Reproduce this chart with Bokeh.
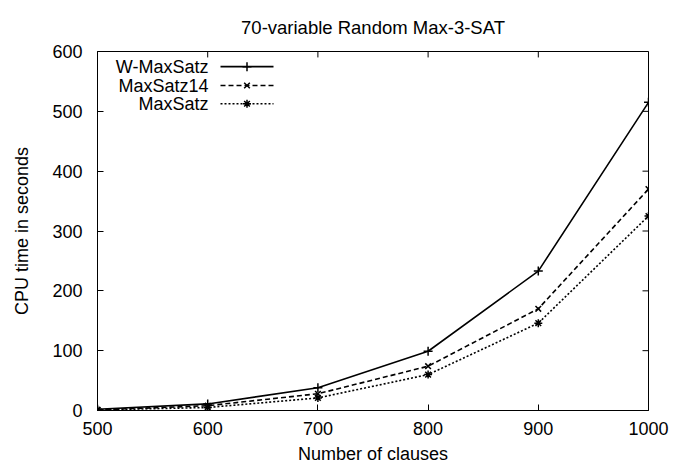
from bokeh.plotting import figure
from bokeh.models import Range1d, FixedTicker
from bokeh.core.properties import value
from bokeh.embed import file_html
from bokeh.resources import INLINE

# ---- data ----
clauses = [500, 600, 700, 800, 900, 1000]
w_maxsatz = [2, 11, 38, 99, 233, 515]
maxsatz14 = [1, 8, 28, 74, 170, 370]
maxsatz = [1, 5, 21, 60, 146, 325]
x_ticks = [500, 600, 700, 800, 900, 1000]
y_ticks = [0, 100, 200, 300, 400, 500, 600]
series_names = ["W-MaxSatz", "MaxSatz14", "MaxSatz"]
title_text = "70-variable Random Max-3-SAT"

FONT = "Liberation Sans"
FS = "18px"

p = figure(width=673, height=466, output_backend="svg", toolbar_location=None,
           x_range=Range1d(500, 1000), y_range=Range1d(0, 600),
           min_border_left=97, min_border_right=25, min_border_top=49, min_border_bottom=55,
           title=title_text)
p.background_fill_color = "white"
p.border_fill_color = "white"
p.outline_line_color = "black"
p.outline_line_width = 1
p.xgrid.visible = False
p.ygrid.visible = False

p.title.align = "center"
p.title.text_font = FONT
p.title.text_font_size = "18.5px"
p.title.text_font_style = "normal"
p.title.text_color = "black"
p.title.text_line_height = 0.6
p.title.standoff = 28

for ax in (p.xaxis[0], p.yaxis[0]):
    ax.major_tick_in = 6
    ax.major_tick_out = 0
    ax.minor_tick_in = 0
    ax.minor_tick_out = 0
    ax.axis_line_color = "black"
    ax.major_tick_line_color = "black"
    ax.major_label_text_font = FONT
    ax.major_label_text_font_size = FS
    ax.major_label_text_color = "black"
    ax.axis_label_text_font = FONT
    ax.axis_label_text_font_size = FS
    ax.axis_label_text_font_style = "normal"
    ax.axis_label_text_color = "black"

p.xaxis.ticker = FixedTicker(ticks=x_ticks)
p.yaxis.ticker = FixedTicker(ticks=y_ticks)
p.xaxis.axis_label = "Number of clauses"
p.yaxis.axis_label = "CPU time in seconds"
p.xaxis.major_label_standoff = 11
p.xaxis.axis_label_standoff = 6
p.yaxis.major_label_standoff = 15
p.yaxis.axis_label_standoff = 17

# pixel-like ranges over the frame (for mirror ticks and the key)
p.extra_x_ranges = {"px": Range1d(0, 551)}
p.extra_y_ranges = {"py": Range1d(0, 362)}

# mirror ticks on top and right borders (gnuplot style)
p.segment(x0=x_ticks, x1=x_ticks, y0=[362] * len(x_ticks), y1=[356] * len(x_ticks),
          y_range_name="py", line_color="black", line_width=1)
p.segment(x0=[551] * len(y_ticks), x1=[545] * len(y_ticks), y0=y_ticks, y1=y_ticks,
          x_range_name="px", line_color="black", line_width=1)

# ---- series ----
styles = [
    dict(dash="solid", marker="cross", size=9),
    dict(dash="5 3", marker="x", size=8),
    dict(dash="2 2", marker="asterisk", size=8),
]
for ys, st in zip([w_maxsatz, maxsatz14, maxsatz], styles):
    p.line(clauses, ys, line_color="black", line_width=1.6, line_dash=st["dash"])
    p.scatter(clauses, ys, marker=st["marker"], size=st["size"], line_color="black",
              fill_color="black", line_width=1.5)

# ---- key (gnuplot style: text right-aligned, sample to the right) ----
key_text_x = [111, 111, 111]
key_y = [346.7, 327.7, 309.3]
key_x0 = [123, 123, 123]
key_x1 = [176, 176, 176]
key_xm = [149.5, 149.5, 149.5]
p.text(x=key_text_x, y=key_y, text=series_names, x_range_name="px", y_range_name="py",
       text_align="right", text_baseline="middle", text_font=value(FONT),
       text_font_size=FS, text_color="black")
for i, st in enumerate(styles):
    p.line([key_x0[i], key_x1[i]], [key_y[i], key_y[i]], x_range_name="px", y_range_name="py",
           line_color="black", line_width=1.6, line_dash=st["dash"])
    p.scatter([key_xm[i]], [key_y[i]], x_range_name="px", y_range_name="py",
              marker=st["marker"], size=st["size"], line_color="black",
              fill_color="black", line_width=1.5)

open("out.html", "w").write(file_html(p, INLINE))
